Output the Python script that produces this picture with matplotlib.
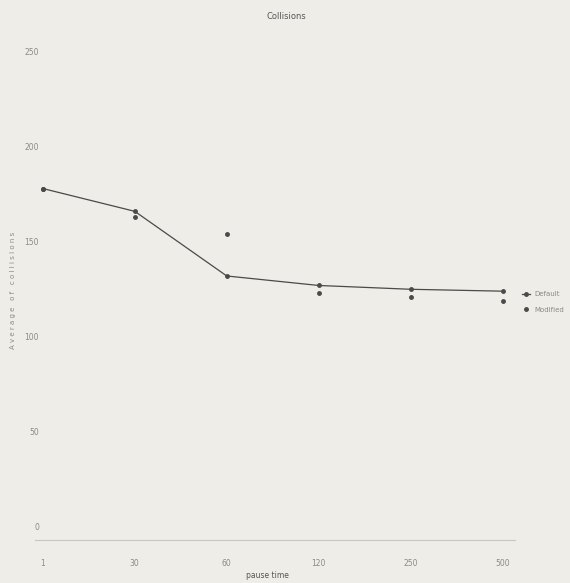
import numpy as np
import matplotlib.pyplot as plt

pause_labels = ["1", "30", "60", "120", "250", "500"]
default_vals = [178, 166, 132, 127, 125, 124]
modified_vals = [178, 163, 154, 123, 121, 119]
y_ticks = [0, 50, 100, 150, 200, 250]

paper = "#eeede8"
ink = "#4a4a4a"
faint = "#8a8a88"

fig = plt.figure(figsize=(5.70, 5.83), dpi=100, facecolor=paper)
ax = fig.add_axes([0.061, 0.074, 0.842, 0.857], facecolor=paper)

x = np.arange(len(pause_labels))
ax.plot(x, default_vals, '-', color=ink, lw=0.9, marker='o', ms=2.5, label="Default")
ax.plot(x, modified_vals, linestyle='none', color=ink, marker='o', ms=2.5, label="Modified")

ax.set_xlim(-0.087, 5.13)
ax.set_ylim(-6.8, 256)
ax.set_xticks(x)
ax.set_xticklabels(pause_labels)
ax.set_yticks(y_ticks)
for s in ["top", "right", "left"]:
    ax.spines[s].set_visible(False)
ax.spines["bottom"].set_color("#c8c7c2")
ax.spines["bottom"].set_linewidth(0.8)
ax.tick_params(axis='both', length=0, colors=faint, labelsize=5.5)
ax.tick_params(axis='x', pad=14)
ax.tick_params(axis='y', pad=-3)

fig.text(0.47, 0.006, "pause time", ha='center', va='bottom', fontsize=5.5, color="#555555")
ax.set_ylabel("A v e r a g e   o f   c o l l i s i o n s", fontsize=5, color=faint, labelpad=6)
fig.text(0.502, 0.972, "Collisions", ha='center', va='center', fontsize=6, color="#555555")

fig.legend(loc='center left', bbox_to_anchor=(0.905, 0.482), frameon=False,
           fontsize=5, labelcolor=faint, handlelength=1.2, handletextpad=0.5,
           labelspacing=1.4)

plt.savefig("out.png", dpi=100, facecolor=paper)
